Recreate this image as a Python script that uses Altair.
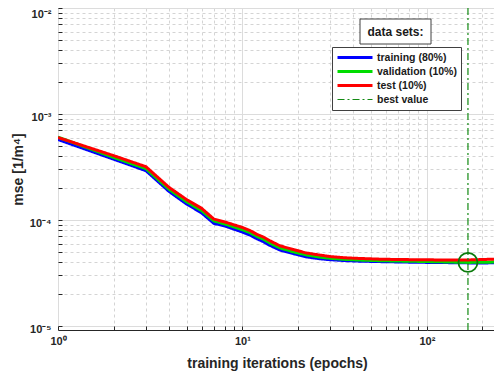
import altair as alt
import pandas as pd

# ---------------- data ----------------
epochs = [1, 2, 3, 4, 5, 6, 7, 8, 9, 10, 11, 12, 13, 14, 16, 19, 22, 26, 30, 36,
          43, 56, 70, 90, 120, 167, 210, 261]
train_mse = [5.75e-4, 3.75e-4, 2.92e-4, 1.86e-4, 1.41e-4, 1.17e-4, 9.3e-5, 8.8e-5,
             8.2e-5, 7.7e-5, 7.2e-5, 6.65e-5, 6.25e-5, 5.8e-5, 5.2e-5, 4.8e-5,
             4.5e-5, 4.32e-5, 4.22e-5, 4.14e-5, 4.09e-5, 4.05e-5, 4.02e-5, 3.99e-5,
             3.97e-5, 3.94e-5, 3.94e-5, 3.95e-5]
val_mse = [6.05e-4, 3.9e-4, 3.05e-4, 1.95e-4, 1.48e-4, 1.23e-4, 9.8e-5, 9.2e-5,
           8.6e-5, 8.1e-5, 7.6e-5, 7.0e-5, 6.6e-5, 6.1e-5, 5.45e-5, 5.0e-5,
           4.7e-5, 4.48e-5, 4.35e-5, 4.25e-5, 4.19e-5, 4.13e-5, 4.1e-5, 4.07e-5,
           4.03e-5, 3.98e-5, 4.0e-5, 4.02e-5]
test_mse = [6.0e-4, 4.05e-4, 3.18e-4, 2.03e-4, 1.55e-4, 1.29e-4, 1.02e-4, 9.6e-5,
            9.0e-5, 8.5e-5, 7.95e-5, 7.3e-5, 6.9e-5, 6.4e-5, 5.7e-5, 5.25e-5,
            4.9e-5, 4.68e-5, 4.52e-5, 4.4e-5, 4.34e-5, 4.27e-5, 4.24e-5, 4.22e-5,
            4.2e-5, 4.2e-5, 4.25e-5, 4.3e-5]

series_names = ["training (80%)", "validation (10%)", "test (10%)", "best value"]
series_colors = ["#0000ff", "#00dd00", "#ff0000", "#138a13"]
series_dash = [[1, 0], [1, 0], [1, 0], [7, 3, 2, 3]]
series_width = [3, 3, 3, 1.2]

best_epoch = [167]
best_mse = [3.98e-5]
legend_title = ["data sets:"]

x_ticks = [1, 2, 3, 4, 5, 6, 7, 8, 9, 10, 20, 30, 40, 50, 60, 70, 80, 90, 100, 200]
y_ticks = [1e-5, 2e-5, 3e-5, 4e-5, 5e-5, 6e-5, 7e-5, 8e-5, 9e-5,
           1e-4, 2e-4, 3e-4, 4e-4, 5e-4, 6e-4, 7e-4, 8e-4, 9e-4,
           1e-3, 2e-3, 3e-3, 4e-3, 5e-3, 6e-3, 7e-3, 8e-3, 9e-3, 1e-2]
x_domain = [1, 237]
y_domain = [9.17e-6, 1e-2]

# ---------------- tables ----------------
rows = []
for name, vals in zip(series_names[:3], [train_mse, val_mse, test_mse]):
    for e, v in zip(epochs, vals):
        rows.append({"epoch": e, "mse": v, "series": name})
lines_df = pd.DataFrame(rows)
best_df = pd.DataFrame({"epoch": best_epoch, "mse": best_mse,
                        "series": [series_names[3]]})
title_df = pd.DataFrame({"label": legend_title})

FONT = "Liberation Sans"
INK = "#262626"
MAJOR = "abs(log(datum.value)/LN10 - round(log(datum.value)/LN10)) < 1e-6"

x_label_expr = ("datum.value == 1 ? '10⁰' : datum.value == 10 ? '10¹' : "
                "datum.value == 100 ? '10²' : ''")
y_label_expr = ("abs(datum.value/0.01 - 1) < 1e-6 ? '10⁻²' : "
                "abs(datum.value/0.001 - 1) < 1e-6 ? '10⁻³' : "
                "abs(datum.value/0.0001 - 1) < 1e-6 ? '10⁻⁴' : "
                "abs(datum.value/0.00001 - 1) < 1e-6 ? '10⁻⁵' : ''")

common_axis = dict(
    grid=True,
    gridColor={"condition": {"test": MAJOR, "value": "#dcdcdc"}, "value": "#d4d4d4"},
    gridDash={"condition": {"test": MAJOR, "value": []}, "value": [3, 3]},
    domain=False, offset=-4, tickSize=4, tickColor=INK, tickWidth=1,
    labelFont=FONT, labelFontSize=11, labelFontWeight="bold", labelColor=INK,
    labelFlush=False, labelOverlap=False, labelBound=False,
    titleFont=FONT, titleFontSize=14, titleFontWeight="bold", titleColor=INK,
)

x_enc = alt.X("epoch:Q",
              scale=alt.Scale(type="log", domain=x_domain, nice=False),
              axis=alt.Axis(values=x_ticks, labelExpr=x_label_expr,
                            title="training iterations (epochs)",
                            labelPadding=5, titleY=30, titleBaseline="top",
                            **common_axis))
y_enc = alt.Y("mse:Q",
              scale=alt.Scale(type="log", domain=y_domain, nice=False),
              axis=alt.Axis(values=y_ticks, labelExpr=y_label_expr,
                            title="mse [1/m⁴]", labelPadding=7,
                            labelOffset={"condition": {"test": "datum.value > 0.005",
                                                       "value": 6}, "value": 3},
                            titlePadding=4, **common_axis))

legend = alt.Legend(orient="none", legendX=274, legendY=39, title=None,
                    strokeColor="#404040", fillColor="white", padding=4,
                    clipHeight=13, rowPadding=1, symbolType="stroke",
                    symbolSize=1225, labelFont=FONT, labelFontSize=10.5,
                    labelFontWeight="bold", labelColor="#1a1a1a", labelOffset=3,
                    labelLimit=200)

color_enc = alt.Color("series:N", scale=alt.Scale(domain=series_names, range=series_colors),
                      legend=legend)
dash_enc = alt.StrokeDash("series:N", scale=alt.Scale(domain=series_names, range=series_dash),
                          legend=legend)
width_enc = alt.StrokeWidth("series:N",
                            scale=alt.Scale(type="ordinal", domain=series_names,
                                            range=series_width),
                            legend=legend)

lines = alt.Chart(lines_df).mark_line(clip=True).encode(
    x=x_enc, y=y_enc, color=color_enc, strokeDash=dash_enc, strokeWidth=width_enc)

rule = alt.Chart(best_df).mark_rule().encode(
    x=x_enc, color=color_enc, strokeDash=dash_enc, strokeWidth=width_enc)

circle = alt.Chart(best_df).mark_point(shape="circle", filled=False, size=361,
                                       strokeWidth=1.8, color="#0b7a0b",
                                       opacity=1).encode(x=x_enc, y=y_enc)

title_box = alt.Chart(title_df).mark_rect(fill="white", stroke="#404040",
                                          strokeWidth=1).encode(
    x=alt.value(302), x2=alt.value(373), y=alt.value(11), y2=alt.value(36))
title_text = alt.Chart(title_df).mark_text(font=FONT, fontSize=12, fontWeight="bold",
                                           color="#1a1a1a", align="center",
                                           baseline="middle").encode(
    x=alt.value(337.5), y=alt.value(23.5), text="label:N")

chart = alt.layer(lines, rule, circle, title_box, title_text).properties(
    width=438, height=322,
    padding={"left": 50, "top": 0, "right": -2, "bottom": 43},
    autosize=alt.AutoSizeParams(type="none"),
    background="white",
).configure_view(stroke=INK, strokeWidth=1)

chart.save("out.html", embed_options={"renderer": "svg", "actions": False})
